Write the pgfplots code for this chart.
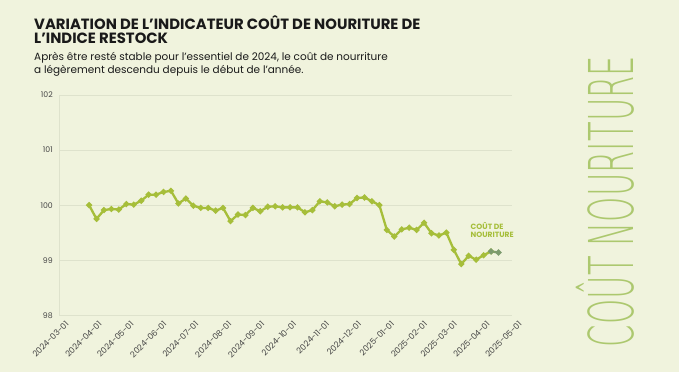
\documentclass[border=0pt]{standalone}
\usepackage{fontspec}
\setmainfont{Poppins}
\newfontfamily\thinfont{DejaVu Sans ExtraLight}
\usepackage{graphicx}
\usepackage{pgfplots}
\pgfplotsset{compat=1.18}
\definecolor{bg}{RGB}{240,243,221}
\definecolor{gridc}{RGB}{222,226,204}
\definecolor{lineg}{RGB}{166,190,58}
\definecolor{lastg}{RGB}{125,155,110}
\definecolor{bigg}{RGB}{172,200,110}
\definecolor{tickc}{RGB}{70,70,70}
\definecolor{titlec}{RGB}{26,26,26}
\pgfplotstableread{
day value
28 100.00
35 99.75
42 99.91
49 99.93
56 99.92
63 100.02
70 100.01
77 100.08
84 100.19
91 100.19
98 100.24
105 100.26
112 100.03
119 100.12
126 99.99
133 99.95
140 99.95
147 99.90
154 99.95
161 99.71
168 99.83
175 99.82
182 99.95
189 99.89
196 99.97
203 99.98
210 99.96
217 99.96
224 99.96
231 99.87
238 99.91
245 100.07
252 100.05
259 99.98
266 100.01
273 100.02
280 100.13
287 100.14
294 100.07
301 100.00
308 99.55
315 99.43
322 99.56
329 99.59
336 99.55
343 99.68
350 99.49
357 99.45
364 99.50
371 99.19
378 98.93
385 99.08
392 99.01
399 99.09
406 99.16
}\maindata
\pgfplotstableread{
day value
406 99.16
413 99.14
}\lastdata
\begin{document}
\begin{tikzpicture}[x=1bp,y=1bp]
\fill[bg] (0,0) rectangle (679,372);
\path[use as bounding box] (0,0) rectangle (679,372);
\node[anchor=base west, inner sep=0, text=titlec, font=\bfseries\fontsize{14.9}{16}\selectfont] at (34,342.7) {VARIATION DE L’INDICATEUR COÛT DE NOURITURE DE};
\node[anchor=base west, inner sep=0, text=titlec, font=\bfseries\fontsize{14.9}{16}\selectfont] at (34,328.7) {L’INDICE RESTOCK};
\node[anchor=base west, inner sep=0, text=titlec, font=\fontsize{10.5}{12}\selectfont] at (34,311.7) {Après être resté stable pour l’essentiel de 2024, le coût de nourriture};
\node[anchor=base west, inner sep=0, text=titlec, font=\fontsize{10.5}{12}\selectfont] at (34,299) {a légèrement descendu depuis le début de l’année.};
\begin{axis}[
  at={(59.3bp,56.7bp)}, anchor=south west,
  scale only axis, width=453bp, height=220.3bp,
  xmin=0, xmax=426, ymin=98, ymax=102,
  axis lines=left, axis line style={-, draw=gridc, line width=0.7bp},
  ymajorgrids, grid style={draw=gridc, line width=0.7bp},
  major tick length=0pt,
  ytick={98,99,100,101,102},
  xtick={0,31,61,92,122,153,184,214,245,275,306,337,365,396,426},
  xticklabels={2024-03-01,2024-04-01,2024-05-01,2024-06-01,2024-07-01,2024-08-01,2024-09-01,2024-10-01,2024-11-01,2024-12-01,2025-01-01,2025-02-01,2025-03-01,2025-04-01,2025-05-01},
  /pgf/number format/assume math mode=true,
  yticklabel style={font=\fontsize{7.8}{8}\selectfont, text=tickc, xshift=-3bp},
  xticklabel style={font=\fontsize{8.3}{9}\selectfont, text=tickc, rotate=45, anchor=north east, xshift=4bp, yshift=-4bp},
  clip=false,
]
\addplot[color=lineg, line width=2.3bp, mark=*, mark size=1.7bp, mark options={fill=lineg, draw=lineg}] table[x=day,y=value] {\maindata};
\addplot[color=lastg, line width=2.3bp, mark=*, mark size=1.7bp, mark options={fill=lastg, draw=lastg}] table[x=day,y=value] {\lastdata};
\end{axis}
\node[anchor=base west, inner sep=0, text=lineg, font=\bfseries\fontsize{7.6}{7.6}\selectfont] at (470.5,143) {COÛT DE};
\node[anchor=base west, inner sep=0, text=lineg, font=\bfseries\fontsize{7.6}{7.6}\selectfont] at (470.5,134.7) {NOURITURE};
\node[rotate=90, inner sep=0, text=bigg, font=\thinfont\fontsize{62}{62}\selectfont, anchor=base] at (633,170.5) {\scalebox{0.52}[1]{COÛT NOURITURE}};
\end{tikzpicture}
\end{document}
